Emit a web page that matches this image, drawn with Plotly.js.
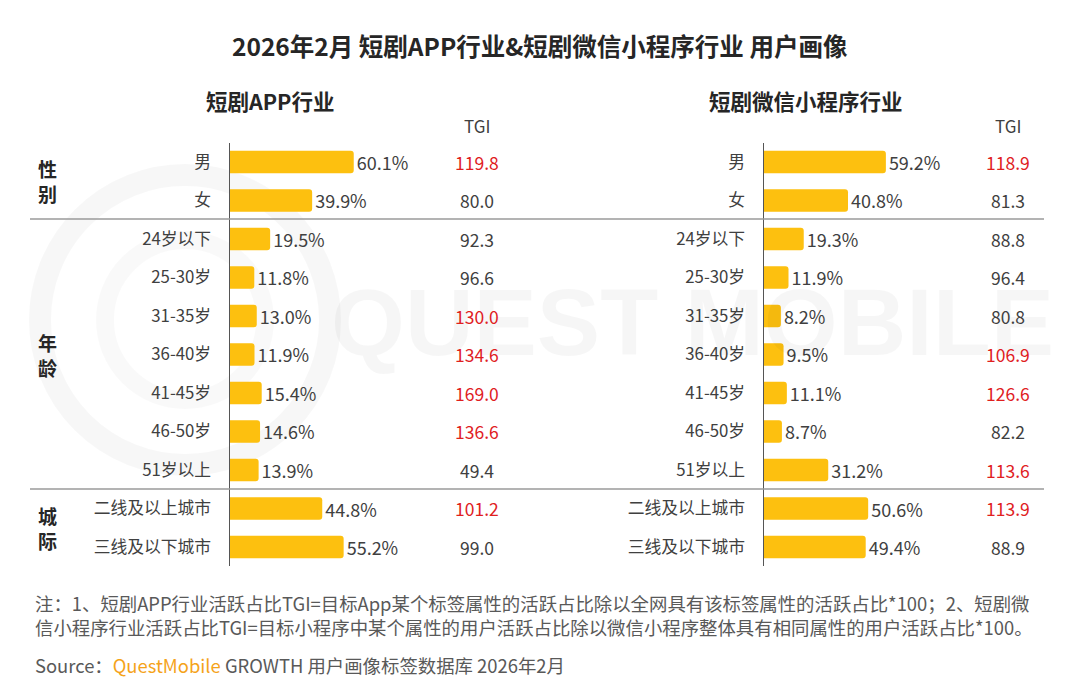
<!DOCTYPE html>
<html>
<head>
<meta charset="utf-8">
<script src="https://cdn.plot.ly/plotly-3.0.1.min.js"></script>
<style>html,body{margin:0;padding:0;background:#fff;}#chart{width:1080px;height:689px;}</style>
</head>
<body>
<div id="chart"></div>
<script>
// ---- data ----
const categories = ['男','女','24岁以下','25-30岁','31-35岁','36-40岁','41-45岁','46-50岁','51岁以上','二线及以上城市','三线及以下城市'];
const appShare  = [60.1, 39.9, 19.5, 11.8, 13.0, 11.9, 15.4, 14.6, 13.9, 44.8, 55.2];
const appTGI    = [119.8, 80.0, 92.3, 96.6, 130.0, 134.6, 169.0, 136.6, 49.4, 101.2, 99.0];
const miniShare = [59.2, 40.8, 19.3, 11.9, 8.2, 9.5, 11.1, 8.7, 31.2, 50.6, 49.4];
const miniTGI   = [118.9, 81.3, 88.8, 96.4, 80.8, 106.9, 126.6, 82.2, 113.6, 113.9, 88.9];
const groupNames = ['性别', '年龄', '城际'];
const groupRows  = [[0, 1], [2, 8], [9, 10]];
const panelTitles = ['短剧APP行业', '短剧微信小程序行业'];
const chartTitle = '2026年2月 短剧APP行业&短剧微信小程序行业 用户画像';
const note1 = '注：1、短剧APP行业活跃占比TGI=目标App某个标签属性的活跃占比除以全网具有该标签属性的活跃占比*100；2、短剧微';
const note2 = '信小程序行业活跃占比TGI=目标小程序中某个属性的用户活跃占比除以微信小程序整体具有相同属性的用户活跃占比*100。';

// ---- helpers ----
const W = 1080, H = 689;
const px = x => x / W;
const py = y => 1 - y / H;
const FONT = '"Noto Sans CJK SC", "Noto Sans", sans-serif';
const TXT = '#404040';
const RED = '#E0201E';
const BAR = '#FDC00F';

function barTrace(vals, xa, ya) {
  return {
    type: 'bar', orientation: 'h',
    x: vals, y: categories, xaxis: xa, yaxis: ya,
    width: 0.58,
    marker: {color: BAR, cornerradius: 3},
    text: vals.map(v => v.toFixed(1) + '%'),
    textposition: 'outside', cliponaxis: false, constraintext: 'none',
    textfont: {family: FONT, size: 18, color: TXT},
    hoverinfo: 'skip'
  };
}

const traces = [barTrace(appShare, 'x', 'y'), barTrace(miniShare, 'x2', 'y2')];

const annotations = [];
// watermark (faint)
annotations.push({xref: 'paper', yref: 'paper', x: px(692), y: py(322), xanchor: 'center', yanchor: 'middle',
  text: '<b>QUEST MOBILE</b>', showarrow: false,
  font: {family: '"Liberation Sans", Arial, sans-serif', size: 95, color: 'rgba(0,0,0,0.035)'}});
// main title
annotations.push({xref: 'paper', yref: 'paper', x: 0.5, y: py(45), xanchor: 'center', yanchor: 'middle',
  text: chartTitle, showarrow: false, font: {family: FONT, size: 24.5, weight: 600, color: '#262626'}});
// panel titles
[[270, panelTitles[0]], [806, panelTitles[1]]].forEach(([x, t]) => {
  annotations.push({xref: 'paper', yref: 'paper', x: px(x), y: py(101), xanchor: 'center', yanchor: 'middle',
    text: t, showarrow: false, font: {family: FONT, size: 21.5, weight: 600, color: '#262626'}});
});
// TGI headers & values
[[477, appTGI, 'y'], [1008, miniTGI, 'y2']].forEach(([x, arr, ya]) => {
  annotations.push({xref: 'paper', yref: 'paper', x: px(x), y: py(125), xanchor: 'center', yanchor: 'middle',
    text: 'TGI', showarrow: false, font: {family: FONT, size: 17, color: TXT}});
  arr.forEach((v, i) => {
    annotations.push({xref: 'paper', yref: ya, x: px(x), y: categories[i], xanchor: 'center', yanchor: 'middle',
      text: v.toFixed(1), showarrow: false, font: {family: FONT, size: 17.5, color: v > 100 ? RED : TXT}});
  });
});
// group labels
groupNames.forEach((g, i) => {
  const mid = (groupRows[i][0] + groupRows[i][1]) / 2;
  annotations.push({xref: 'paper', yref: 'y', x: px(47), y: mid, xanchor: 'center', yanchor: 'middle',
    text: '<b>' + g.split('').join('<br>') + '</b>', showarrow: false,
    font: {family: FONT, size: 19, color: '#262626'}});
});
// notes
annotations.push({xref: 'paper', yref: 'paper', x: px(33), y: py(603), xanchor: 'left', yanchor: 'middle',
  text: note1, showarrow: false, font: {family: FONT, size: 18.4, color: '#595959'}});
annotations.push({xref: 'paper', yref: 'paper', x: px(33), y: py(627), xanchor: 'left', yanchor: 'middle',
  text: note2, showarrow: false, font: {family: FONT, size: 18.4, color: '#595959'}});
annotations.push({xref: 'paper', yref: 'paper', x: px(33), y: py(665), xanchor: 'left', yanchor: 'middle',
  text: 'Source：<span style="color:#F5A31A">QuestMobile</span> GROWTH 用户画像标签数据库 2026年2月',
  showarrow: false, font: {family: FONT, size: 18.4, color: '#595959'}});

const shapes = [
  {type: 'line', xref: 'paper', yref: 'paper', x0: px(30), x1: px(1044), y0: py(219), y1: py(219), line: {color: '#9a9a9a', width: 1.5}},
  {type: 'line', xref: 'paper', yref: 'paper', x0: px(30), x1: px(1044), y0: py(489), y1: py(489), line: {color: '#9a9a9a', width: 1.5}},
  // faint watermark logo rings
  {type: 'circle', xref: 'paper', yref: 'paper', x0: px(40), x1: px(330), y0: py(175), y1: py(465), layer: 'below', line: {color: 'rgba(0,0,0,0.03)', width: 22}},
  {type: 'circle', xref: 'paper', yref: 'paper', x0: px(105), x1: px(265), y0: py(240), y1: py(400), layer: 'below', line: {color: 'rgba(0,0,0,0.025)', width: 18}}
];

const yBase = {
  type: 'category', categoryorder: 'array', categoryarray: categories,
  range: [10.5, -0.5], domain: [py(566.25), py(142.75)],
  showline: true, linecolor: '#555', linewidth: 1.5, showgrid: false, zeroline: false,
  ticks: '', ticklabelstandoff: 14,
  tickfont: {family: FONT, size: 16.8, color: TXT}, fixedrange: true
};
const xBase = {range: [0, 102], showgrid: false, zeroline: false, showline: false, showticklabels: false, ticks: '', fixedrange: true};

const layout = {
  width: W, height: H,
  margin: {l: 0, r: 0, t: 0, b: 0},
  paper_bgcolor: '#fff', plot_bgcolor: 'rgba(0,0,0,0)',
  showlegend: false,
  xaxis: Object.assign({}, xBase, {domain: [px(230), px(440)], anchor: 'y'}),
  xaxis2: Object.assign({}, xBase, {domain: [px(764), px(974)], anchor: 'y2'}),
  yaxis: Object.assign({}, yBase, {anchor: 'x'}),
  yaxis2: Object.assign({}, yBase, {anchor: 'x2'}),
  annotations: annotations,
  shapes: shapes,
  font: {family: FONT}
};

Plotly.newPlot('chart', traces, layout, {displayModeBar: false, staticPlot: true});
</script>
</body>
</html>
